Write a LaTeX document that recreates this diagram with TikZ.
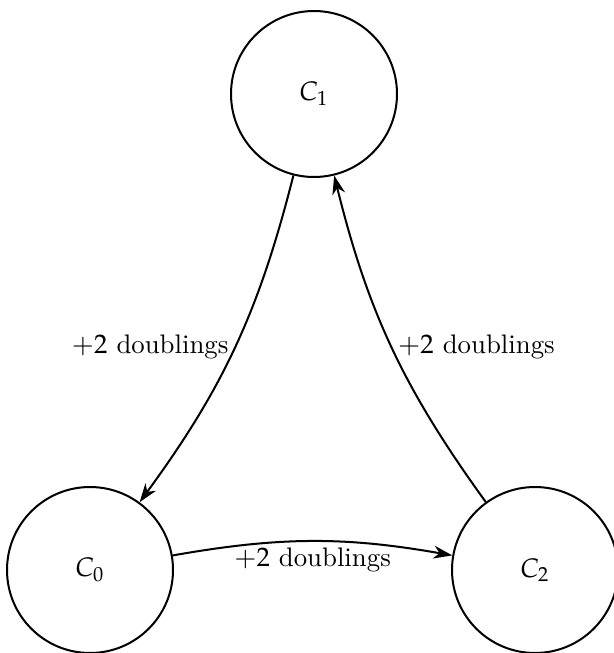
\documentclass[tikz,border=0pt]{standalone}
\usepackage{mathpazo}
\usetikzlibrary{arrows.meta}
\begin{document}
\begin{tikzpicture}[x=0.373pt,y=-0.373pt,
  state/.style={draw,circle,line width=0.75pt,minimum size=166*0.373pt,inner sep=0pt},
  conn/.style={line width=0.75pt,-{Stealth[length=7pt,width=4.8pt,inset=2.2pt]}},
  lbl/.style={font=\normalsize,inner sep=2pt}]
\useasboundingbox (0,0) rectangle (613,653);
\node[state] (c1) at (314,94) {$C_1$};
\node[state] (c0) at (90,570) {$C_0$};
\node[state] (c2) at (535,570) {$C_2$};
\draw[conn] (c1) to[bend left=11] node[lbl,midway,anchor=east] {$+2$ doublings} (c0);
\draw[conn] (c0) to[bend left=10] node[lbl,midway,anchor=north] {$+2$ doublings} (c2);
\draw[conn] (c2) to[bend left=11] node[lbl,midway,anchor=west] {$+2$ doublings} (c1);
\end{tikzpicture}
\end{document}
